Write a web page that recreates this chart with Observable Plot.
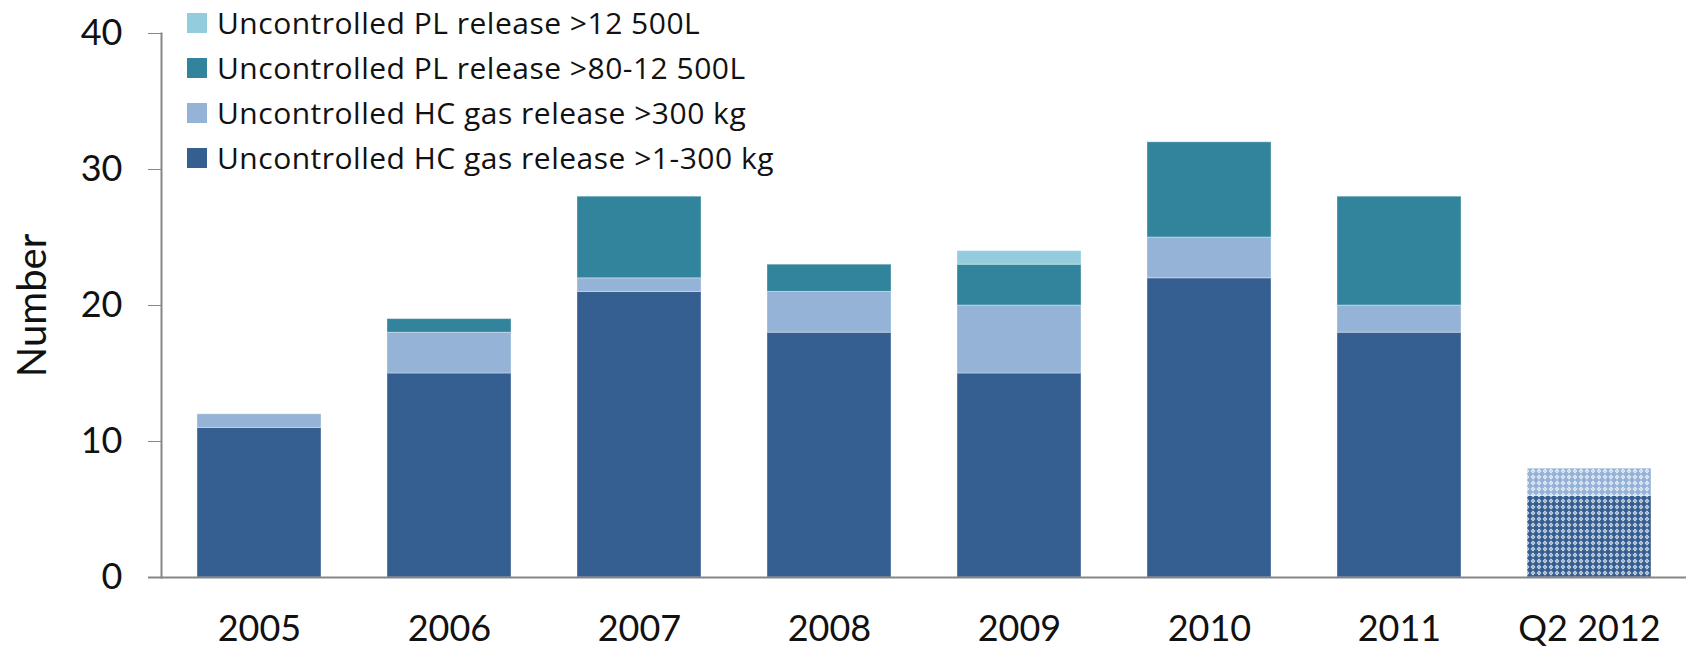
<!DOCTYPE html>
<html>
<head>
<meta charset="utf-8">
<script src="https://cdn.jsdelivr.net/npm/d3@7"></script>
<script src="https://cdn.jsdelivr.net/npm/@observablehq/plot@0.6"></script>
<style>
  html, body { margin: 0; padding: 0; background: #fff; }
  #wrap { position: relative; width: 1689px; height: 646px; font-family: Lato, "Open Sans", sans-serif; }
  #legend { position: absolute; left: 187px; top: 0px; }
  .row { height: 45px; display: flex; align-items: center; font-family: "Open Sans", sans-serif; font-size: 30px; letter-spacing: 0.5px; color: #111; white-space: nowrap; }
  .sw { width: 20px; height: 20px; margin-right: 10px; flex: none; }
  g[aria-label="y-axis label"] text { font-size: 40px; }
</style>
</head>
<body>
<div id="wrap"></div>
<script>
const years = ["2005", "2006", "2007", "2008", "2009", "2010", "2011", "Q2 2012"];
const seriesNames = [
  "Uncontrolled HC gas release >1-300 kg",
  "Uncontrolled HC gas release >300 kg",
  "Uncontrolled PL release >80-12 500L",
  "Uncontrolled PL release >12 500L"
];
const seriesColors = ["#365F91", "#95B3D7", "#31849B", "#93CDDD"];
const hcSmall = [11, 15, 21, 18, 15, 22, 18, 6];
const hcLarge = [1, 3, 1, 3, 5, 3, 2, 2];
const plSmall = [0, 1, 6, 2, 3, 7, 8, 0];
const plLarge = [0, 0, 0, 0, 1, 0, 0, 0];
const yTicks = [0, 10, 20, 30, 40];
const partialYear = "Q2 2012";

const seriesValues = [hcSmall, hcLarge, plSmall, plLarge];
const data = [];
seriesValues.forEach((vals, si) => {
  vals.forEach((v, yi) => {
    data.push({year: years[yi], series: seriesNames[si], si, value: v});
  });
});

const fillFor = d => d.year === partialYear ? `url(#pat${d.si})` : seriesColors[d.si];

const plot = Plot.plot({
  width: 1689,
  height: 646,
  marginLeft: 161,
  marginRight: 3,
  marginTop: 33,
  marginBottom: 69,
  style: {fontFamily: "Lato, 'Open Sans', sans-serif", fontSize: "36px", background: "#fff", overflow: "visible"},
  x: {domain: years, paddingInner: 0.35, paddingOuter: 0.175, label: null},
  y: {domain: [0, 40], label: null},
  color: {type: "identity"},
  marks: [
    Plot.barY(data, Plot.stackY({
      x: "year",
      y: "value",
      z: "series",
      order: seriesNames,
      fill: fillFor,
      stroke: "#fff",
      strokeOpacity: 0.35,
      strokeWidth: 1
    })),
    Plot.axisY({
      ticks: yTicks,
      tickSize: 13,
      tickPadding: 26,
      stroke: "#868686",
      fill: "#111",
      label: "Number",
      labelAnchor: "center",
      labelArrow: "none",
      labelOffset: 144,
      fontSize: 36
    }),
    Plot.axisX({
      tickSize: 0,
      tickPadding: 38,
      fill: "#111",
      label: null,
      fontSize: 36
    }),
    Plot.frame({anchor: "left", stroke: "#868686", strokeWidth: 2}),
    Plot.ruleY([0], {stroke: "#868686", strokeWidth: 2, insetLeft: -13})
  ]
});

// patterns for the partial-year bar
const ns = "http://www.w3.org/2000/svg";
const defs = document.createElementNS(ns, "defs");
seriesColors.forEach((c, i) => {
  const p = document.createElementNS(ns, "pattern");
  p.setAttribute("id", `pat${i}`);
  p.setAttribute("width", "6");
  p.setAttribute("height", "6");
  p.setAttribute("patternUnits", "userSpaceOnUse");
  const r = document.createElementNS(ns, "rect");
  r.setAttribute("width", "6"); r.setAttribute("height", "6"); r.setAttribute("fill", c);
  const dm = document.createElementNS(ns, "path");
  dm.setAttribute("d", "M3,0.6 L5.4,3 L3,5.4 L0.6,3Z");
  dm.setAttribute("fill", "#fff");
  dm.setAttribute("fill-opacity", "0.8");
  const cr = document.createElementNS(ns, "path");
  cr.setAttribute("d", "M2.4,2.4h1.2v1.2h-1.2z");
  cr.setAttribute("fill", c);
  p.appendChild(r); p.appendChild(dm); p.appendChild(cr);
  defs.appendChild(p);
});
plot.insertBefore(defs, plot.firstChild);

const wrap = document.getElementById("wrap");
wrap.appendChild(plot);

// legend (top series first)
const legend = document.createElement("div");
legend.id = "legend";
for (let i = seriesNames.length - 1; i >= 0; i--) {
  const row = document.createElement("div");
  row.className = "row";
  const sw = document.createElement("span");
  sw.className = "sw";
  sw.style.background = seriesColors[i];
  const t = document.createElement("span");
  t.textContent = seriesNames[i];
  row.appendChild(sw); row.appendChild(t);
  legend.appendChild(row);
}
wrap.appendChild(legend);
</script>
</body>
</html>
